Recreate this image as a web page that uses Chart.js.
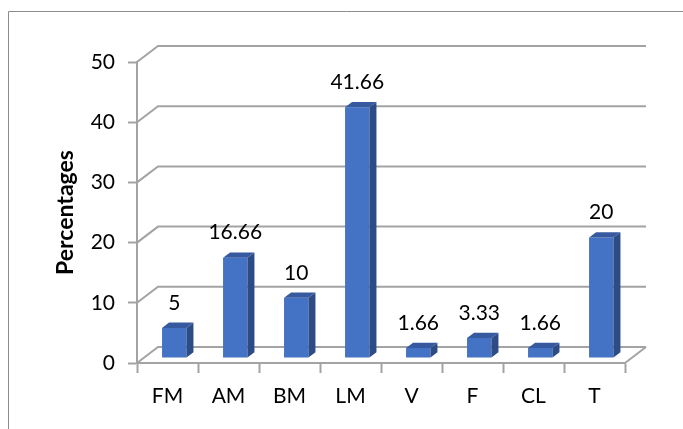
<!DOCTYPE html>
<html>
<head>
<meta charset="utf-8">
<script src="https://cdn.jsdelivr.net/npm/chart.js@4/dist/chart.umd.min.js"></script>
<style>
  html, body { margin: 0; padding: 0; background: #ffffff; }
  #wrap { width: 683px; height: 429px; position: relative; }
</style>
</head>
<body>
<div id="wrap"><canvas id="chart"></canvas></div>
<script>
// Categories and their percentages
const categories = ['FM', 'AM', 'BM', 'LM', 'V', 'F', 'CL', 'T'];
const percentages = [5, 16.66, 10, 41.66, 1.66, 3.33, 1.66, 20];
const valueLabels = ['5', '16.66', '10', '41.66', '1.66', '3.33', '1.66', '20'];
const yTicks = [0, 10, 20, 30, 40, 50];
const yTitle = 'Percentages';

// 3D look: depth of the floor/back wall and of each column
const WALL_DX = 21, WALL_DY = -16;
const BAR_SHIFT_X = 6.75, BAR_SHIFT_Y = -5;
const BAR_DX = 7, BAR_DY = -5.3;

const FONT = 'Lato, "Open Sans", sans-serif';
const GRID = '#a3a3a3';
const FRONT = '#4472c4';
const SIDE = '#2d4c86';
const TOP = '#3759a0';

const depthPlugin = {
  id: 'depth3d',
  beforeDraw(chart) {
    const ctx = chart.ctx;
    // outer frame (left and top edges)
    ctx.save();
    ctx.strokeStyle = '#8c8c8c';
    ctx.lineWidth = 1;
    ctx.beginPath();
    ctx.moveTo(8.5, 430);
    ctx.lineTo(8.5, 11.5);
    ctx.lineTo(690, 11.5);
    ctx.stroke();
    ctx.restore();
  },
  beforeDatasetsDraw(chart) {
    const ctx = chart.ctx;
    const y = chart.scales.y;
    const area = chart.chartArea;
    ctx.save();
    ctx.strokeStyle = GRID;
    ctx.lineWidth = 2;
    // back wall grid lines with their side-wall diagonals
    yTicks.forEach(v => {
      const py = y.getPixelForValue(v);
      ctx.beginPath();
      ctx.moveTo(area.left, py);
      ctx.lineTo(area.left + WALL_DX, py + WALL_DY);
      ctx.lineTo(area.right + WALL_DX, py + WALL_DY);
      ctx.stroke();
    });
    // floor right edge
    const p0 = y.getPixelForValue(0);
    ctx.beginPath();
    ctx.moveTo(area.right, p0);
    ctx.lineTo(area.right + WALL_DX, p0 + WALL_DY);
    ctx.stroke();
    ctx.restore();
    // columns sit partway into the depth
    ctx.save();
    ctx.translate(BAR_SHIFT_X, BAR_SHIFT_Y);
  },
  afterDatasetsDraw(chart) {
    const ctx = chart.ctx;
    ctx.restore();
    const meta = chart.getDatasetMeta(0);
    ctx.save();
    ctx.translate(BAR_SHIFT_X, BAR_SHIFT_Y);
    meta.data.forEach((bar, i) => {
      const p = bar.getProps(['x', 'y', 'base', 'width'], true);
      const l = p.x - p.width / 2, r = p.x + p.width / 2;
      // side face
      ctx.fillStyle = SIDE;
      ctx.beginPath();
      ctx.moveTo(r, p.base);
      ctx.lineTo(r, p.y);
      ctx.lineTo(r + BAR_DX, p.y + BAR_DY);
      ctx.lineTo(r + BAR_DX, p.base + BAR_DY);
      ctx.closePath();
      ctx.fill();
      // top face
      ctx.fillStyle = TOP;
      ctx.beginPath();
      ctx.moveTo(l, p.y);
      ctx.lineTo(r, p.y);
      ctx.lineTo(r + BAR_DX, p.y + BAR_DY);
      ctx.lineTo(l + BAR_DX, p.y + BAR_DY);
      ctx.closePath();
      ctx.fill();
      // value label
      ctx.fillStyle = '#000000';
      ctx.font = '21px ' + FONT;
      ctx.textAlign = 'center';
      ctx.textBaseline = 'middle';
      ctx.fillText(valueLabels[i], p.x, p.y - 25);
    });
    ctx.restore();
  }
};

new Chart(document.getElementById('chart'), {
  type: 'bar',
  data: {
    labels: categories,
    datasets: [{
      data: percentages,
      backgroundColor: FRONT,
      borderWidth: 0,
      categoryPercentage: 1,
      barPercentage: 0.4
    }]
  },
  plugins: [depthPlugin],
  options: {
    responsive: true,
    maintainAspectRatio: false,
    animation: false,
    devicePixelRatio: 1,
    layout: { padding: { left: 40, top: 62, right: 58, bottom: 0 } },
    plugins: {
      legend: { display: false },
      tooltip: { enabled: false }
    },
    scales: {
      x: {
        afterFit(s) { s.height = 66; },
        grid: {
          offset: true,
          drawOnChartArea: false,
          drawTicks: true,
          tickLength: 10,
          tickColor: GRID,
          tickWidth: 2
        },
        border: { display: true, color: GRID, width: 2 },
        ticks: {
          color: '#000000',
          padding: 11,
          font: { family: FONT, size: 21 }
        }
      },
      y: {
        min: 0,
        max: 50,
        afterFit(s) { s.width = 97; },
        afterBuildTicks(s) { s.ticks = yTicks.map(v => ({ value: v })); },
        grid: {
          drawOnChartArea: false,
          drawTicks: true,
          tickLength: 9,
          tickColor: GRID,
          tickWidth: 2
        },
        border: { display: true, color: GRID, width: 2 },
        ticks: {
          color: '#000000',
          padding: 13,
          font: { family: FONT, size: 21 }
        },
        title: {
          display: true,
          text: yTitle,
          color: '#000000',
          padding: { top: 12, bottom: 0 },
          font: { family: FONT, size: 23, weight: 'bold' }
        }
      }
    }
  }
});
</script>
</body>
</html>
